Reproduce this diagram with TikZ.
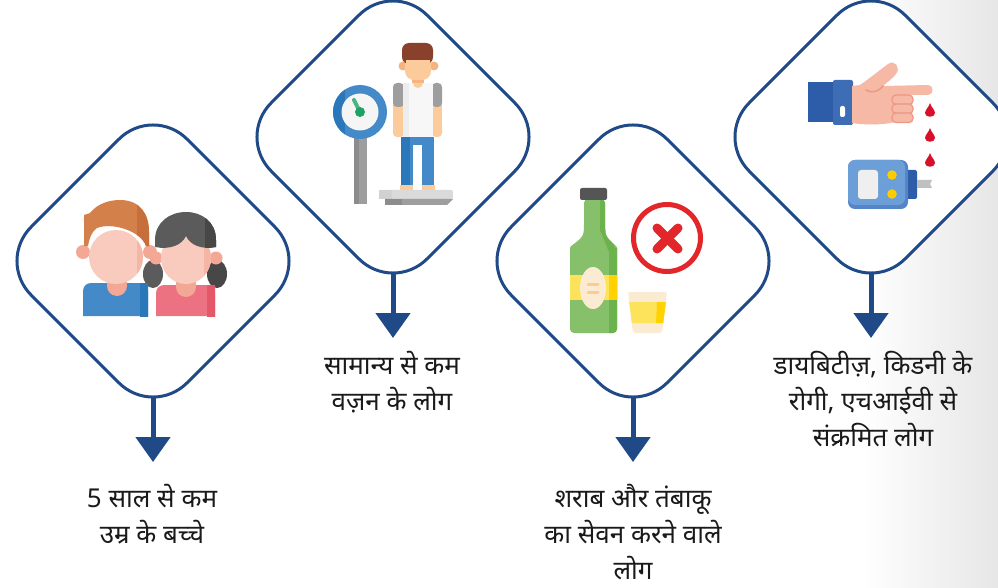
\documentclass[tikz,border=0pt]{standalone}
\usepackage{fontspec}
\newfontfamily\dev[Script=Devanagari]{Noto Sans}
\usetikzlibrary{arrows.meta}
\definecolor{dblue}{RGB}{31,74,135}
\definecolor{bgend}{RGB}{230,230,230}
\definecolor{txt}{RGB}{26,26,26}
\definecolor{skinP}{RGB}{248,203,190}
\definecolor{skinPD}{RGB}{243,168,150}
\definecolor{hairO}{RGB}{212,128,75}
\definecolor{hairOD}{RGB}{198,111,58}
\definecolor{shirtB}{RGB}{68,137,200}
\definecolor{shirtBD}{RGB}{42,119,186}
\definecolor{hairG}{RGB}{91,91,91}
\definecolor{hairGD}{RGB}{71,71,71}
\definecolor{shirtR}{RGB}{236,114,130}
\definecolor{shirtRD}{RGB}{229,88,106}
\definecolor{skinY}{RGB}{251,203,155}
\definecolor{skinYD}{RGB}{245,180,127}
\definecolor{hairBr}{RGB}{138,65,44}
\definecolor{gry}{RGB}{158,158,158}
\definecolor{gryD}{RGB}{140,140,140}
\definecolor{gryL}{RGB}{218,218,218}
\definecolor{gnL}{RGB}{76,181,132}
\definecolor{gnD}{RGB}{31,160,101}
\definecolor{botG}{RGB}{134,192,106}
\definecolor{botGD}{RGB}{109,179,77}
\definecolor{capG}{RGB}{85,85,85}
\definecolor{yel}{RGB}{253,226,92}
\definecolor{yelD}{RGB}{255,210,0}
\definecolor{cream}{RGB}{252,235,211}
\definecolor{orng}{RGB}{248,205,143}
\definecolor{xred}{RGB}{227,38,42}
\definecolor{cuffD}{RGB}{45,92,168}
\definecolor{cuffL}{RGB}{60,109,181}
\definecolor{handP}{RGB}{246,185,166}
\definecolor{handPD}{RGB}{236,152,132}
\definecolor{blood}{RGB}{215,16,43}
\definecolor{metL}{RGB}{108,159,215}
\definecolor{metD}{RGB}{85,133,199}
\definecolor{scr}{RGB}{239,239,239}
\definecolor{btn}{RGB}{255,204,0}
\definecolor{strip}{RGB}{192,192,192}
\tikzset{
  diam/.style={draw=dblue,line width=3pt,fill=white,rounded corners=48pt},
  arr/.style={draw=dblue,line width=5pt,-{Triangle[length=25pt,width=34pt]}},
  lbl/.style={text=txt,align=center,font=\dev\fontsize{26}{36}\selectfont,inner sep=0pt},
}
\begin{document}
\begin{tikzpicture}[x=1pt,y=-1pt]
\useasboundingbox (0,0) rectangle (998,588);
\fill[white] (0,0) rectangle (998,588);
\shade[left color=white,right color=bgend] (863,0) rectangle (998,588);
\def\dd{155.9}
% diamonds
\foreach \cx/\cy in {153/261,393/137,633/261,871/137}{
  \draw[diam] (\cx,\cy) ++(0,-\dd) -- ++(\dd,\dd) -- ++(-\dd,\dd) -- ++(-\dd,-\dd) -- cycle;
}
\coordinate (d1b) at (153,396);
\coordinate (d2b) at (393,272);
\coordinate (d3b) at (633,396);
\coordinate (d4b) at (871,272);
\coordinate (a1) at (153,462);
\coordinate (a2) at (393,338);
\coordinate (a3) at (633,462);
\coordinate (a4) at (871,338);
% ---------- icon 1: children
\fill[hairG] (153,274) ellipse (10 and 14);
\fill[hairGD] (217,274) ellipse (10 and 14);
\fill[skinPD] (83,252) circle (7);
\fill[skinPD] (150,252) circle (7);
\fill[shirtB] (83,316) -- (83,291) [rounded corners=8] -- (83,283) -- (148,283) [sharp corners] -- (148,316) -- cycle;
\begin{scope}
\clip (83,283) rectangle (148,316);
\fill[shirtBD] (140,280) rectangle (150,318);
\end{scope}
\fill[skinPD] (107,276) rectangle (127,286);
\fill[skinPD] (117,286) circle (10);
\fill[skinP] (116,257) ellipse (27 and 27);
\begin{scope}
\clip (116,257) ellipse (27 and 27);
\fill[skinPD!60!skinP] (137,220) rectangle (145,290);
\end{scope}
\fill[hairO] (84,246) -- (84,215) -- (90,213) .. controls (98,203) and (110,200) .. (120,200) .. controls (140,200) and (149,214) .. (149,232) -- (149,246) -- (146,246) .. controls (141,231) and (112,222) .. (97,228) .. controls (91,232) and (89,240) .. (88,246) -- cycle;
\begin{scope}
\clip (84,246) -- (84,215) -- (90,213) .. controls (98,203) and (110,200) .. (120,200) .. controls (140,200) and (149,214) .. (149,232) -- (149,246) -- (146,246) .. controls (141,231) and (112,222) .. (97,228) .. controls (91,232) and (89,240) .. (88,246) -- cycle;
\fill[hairOD] (137,195) rectangle (152,250);
\end{scope}
% girl
\fill[skinPD] (156,258) circle (6.5);
\fill[skinPD] (216,258) circle (6.5);
\fill[shirtR] (156,316) -- (156,292) [rounded corners=8] -- (156,285) -- (215,285) [sharp corners] -- (215,316) -- cycle;
\begin{scope}
\clip (156,285) rectangle (215,316);
\fill[shirtRD] (207,280) rectangle (217,318);
\end{scope}
\fill[skinPD] (176,276) rectangle (196,288);
\fill[skinPD] (186,287) circle (10);
\fill[skinP] (186,258) ellipse (25 and 26);
\begin{scope}
\clip (186,258) ellipse (25 and 26);
\fill[skinPD!60!skinP] (204,220) rectangle (212,290);
\end{scope}
\fill[hairG] (155,247) -- (155,240) .. controls (155,222) and (170,212) .. (186,212) .. controls (202,212) and (216,222) .. (216,240) -- (216,247) .. controls (202,250) and (190,245) .. (186,236) .. controls (182,245) and (170,250) .. (155,247) -- cycle;
\begin{scope}
\clip (155,247) -- (155,240) .. controls (155,222) and (170,212) .. (186,212) .. controls (202,212) and (216,222) .. (216,240) -- (216,247) .. controls (202,250) and (190,245) .. (186,236) .. controls (182,245) and (170,250) .. (155,247) -- cycle;
\fill[hairGD] (205,205) rectangle (218,250);
\end{scope}
% ---------- icon 2: weighing scale
\fill[gry] (354,138) rectangle (367,204);
\fill[gryD] (354,138) rectangle (359,204);
\fill[shirtB] (360,112) circle (27);
\begin{scope}
\clip (360,112) circle (27);
\fill[shirtBD] (333,85) rectangle (345,140);
\end{scope}
\fill[white!96!black] (360,112) circle (18.5);
\draw[gnL,line width=4pt,line cap=round] (354,100) -- (360,112);
\fill[gnD] (360,112) circle (5);
% person
\fill[skinYD] (403,66) circle (4.5);
\fill[skinYD] (434,66) circle (4.5);
\fill[skinYD] (412,76) rectangle (424,86);
\fill[skinYD] (418,86) circle (6);
\fill[skinY] (393,104) rectangle (404,134);
\fill[skinY,rounded corners=4] (393,120) rectangle (404,137);
\fill[skinY] (432,104) rectangle (442,134);
\fill[skinY,rounded corners=4] (432,120) rectangle (442,137);
\fill[gry,rounded corners=4] (393,83) rectangle (404,107);
\fill[gry,rounded corners=4] (432,83) rectangle (442,107);
\fill[white!97!black] (403,83) rectangle (433,137);
\fill[white!93!black] (403,83) rectangle (409,137);
\fill[skinY] (423,83) arc (0:180:5);
\fill[skinY,rounded corners=9] (405,50) rectangle (431,80);
\fill[hairBr,rounded corners=7] (402,43) rectangle (433,64);
\fill[skinY] (406,60) rectangle (430,68);
\fill[shirtB] (401,137) rectangle (434,187);
\fill[shirtBD] (401,137) rectangle (410,187);
\fill[white] (413,145) rectangle (422,190);
\fill[skinY] (400,185) rectangle (413,191);
\fill[skinY] (422,185) rectangle (435,191);
\fill[gryL,rounded corners=2] (379,190) rectangle (453,199);
\fill[white!82!black] (379,190) rectangle (392,199);
\fill[gry] (385,199) -- (453,199) -- (447,205) -- (385,205) -- cycle;
\fill[gryD] (385,199) rectangle (402,205);
% ---------- icon 3: bottle
\begin{scope}[rounded corners=4]
\fill[botG] (570,333) -- (570,252) .. controls (570,245) and (583,240) .. (584,228) -- (584,199) -- (605,199) -- (605,228) .. controls (606,240) and (617,245) .. (617,252) -- (617,333) -- cycle;
\end{scope}
\begin{scope}
\clip[rounded corners=4] (570,333) -- (570,252) .. controls (570,245) and (583,240) .. (584,228) -- (584,199) -- (605,199) -- (605,228) .. controls (606,240) and (617,245) .. (617,252) -- (617,333) -- cycle;
\fill[botGD] (609,248) rectangle (620,340);
\fill[botGD] (600,199) rectangle (606,232);
\fill[botGD] (600,230) -- (606,228) -- (617,252) -- (609,252) -- cycle;
\fill[yel] (565,275) rectangle (620,300);
\fill[yelD] (609,275) rectangle (620,300);
\end{scope}
\fill[capG,rounded corners=2] (580,188) rectangle (607,200);
\fill[cream] (593,288) ellipse (13 and 21);
\draw[orng,line width=3pt,line cap=round] (588,284) -- (598,284);
\draw[orng,line width=3pt,line cap=round] (588,292) -- (598,292);
\draw[xred,line width=5pt] (667,238) circle (33.5);
\draw[xred,line width=9pt,line cap=round] (657,228) -- (678,249);
\draw[xred,line width=9pt,line cap=round] (678,228) -- (657,249);
\fill[cream,rounded corners=2] (628,292) -- (667,292) -- (662,333) -- (633,333) -- cycle;
\fill[yel] (629.2,302) -- (665.8,302) -- (663.2,323) -- (631.8,323) -- cycle;
\fill[yelD] (657,302) -- (665.8,302) -- (663.2,323) -- (656,323) -- cycle;
% ---------- icon 4: hand and glucose meter
\fill[cuffD] (808,82) rectangle (834,122);
\fill[cuffL,rounded corners=2] (833,80) rectangle (853,125);
\fill[white,rounded corners=2] (840,106) rectangle (845,117);
\fill[handP] (852,86) -- (860,85) .. controls (870,78) and (880,70) .. (888,64) .. controls (895,59) and (901,68) .. (896,74) .. controls (891,80) and (885,84) .. (883,86) -- (928,85) .. controls (934,85) and (934,95) .. (928,95) -- (900,95) -- (900,120) .. controls (895,124) and (870,126) .. (852,123) -- cycle;
\draw[handPD,line width=1.5pt,line cap=round] (883,86) .. controls (877,93) and (871,93) .. (866,90);
\foreach \fy in {95,104,113}{
  \fill[handP,rounded corners=4] (892,\fy) rectangle (913,\fy+9.5);
  \draw[handPD,line width=1.2pt,rounded corners=4] (892,\fy) rectangle (913,\fy+9.5);
}
\foreach \by in {110,135,160}{
  \fill[blood] (930,\by-7) .. controls (931,\by-3) and (935,\by) .. (935,\by+3) .. controls (935,\by+8) and (925,\by+8) .. (925,\by+3) .. controls (925,\by) and (929,\by-3) .. (930,\by-7) -- cycle;
}
\fill[cuffD,rounded corners=2] (904,170) rectangle (917,199);
\fill[strip] (917,180) -- (932,180) -- (930,184) -- (932,188) -- (917,188) -- cycle;
\fill[metD,rounded corners=7] (848,160) rectangle (908,209);
\fill[metL,rounded corners=7] (848,160) rectangle (905,205);
\fill[scr,rounded corners=3] (858,170) rectangle (878,199);
\fill[btn] (892,175) circle (4.8);
\fill[btn] (892,194) circle (4.8);
% ---------- arrows
\draw[arr] (d1b) -- (a1);
\draw[arr] (d2b) -- (a2);
\draw[arr] (d3b) -- (a3);
\draw[arr] (d4b) -- (a4);
% ---------- labels
\node[lbl,anchor=north] (t1) at (152,484) {5 साल से कम\\उम्र के बच्चे};
\node[lbl,anchor=north] (t2) at (392,351) {सामान्य से कम\\वज़न के लोग};
\node[lbl,anchor=north] (t3) at (633,484) {शराब और तंबाकू\\का सेवन करने वाले\\लोग};
\node[lbl,anchor=north] (t4) at (873,351) {डायबिटीज़, किडनी के\\रोगी, एचआईवी से\\संक्रमित लोग};
\end{tikzpicture}
\end{document}
